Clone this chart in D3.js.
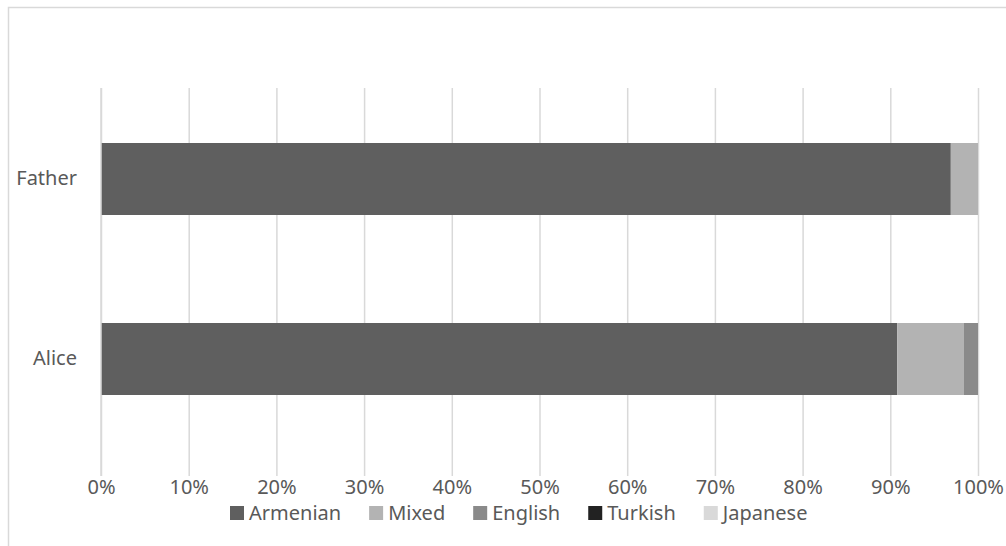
<!DOCTYPE html>
<html>
<head>
<meta charset="utf-8">
<script src="https://cdn.jsdelivr.net/npm/d3@7"></script>
<style>
  html, body { margin: 0; padding: 0; background: #fff; }
  svg { display: block; font-family: "Noto Sans", "Open Sans", sans-serif; }
</style>
</head>
<body>
<svg id="chart" width="1006" height="546"></svg>
<script>
// Language share per speaker (percent of utterances)
const speakers = ["Father", "Alice"];
const languages = ["Armenian", "Mixed", "English", "Turkish", "Japanese"];
const armenian = [96.9, 90.8];
const mixed    = [3.1, 7.6];
const english  = [0, 1.6];
const turkish  = [0, 0];
const japanese = [0, 0];
const tickValues = [0, 10, 20, 30, 40, 50, 60, 70, 80, 90, 100];
const colors = ["#5f5f5f", "#b3b3b3", "#8a8a8a", "#222222", "#d9d9d9"];

const rows = speakers.map((s, i) => ({
  speaker: s,
  Armenian: armenian[i], Mixed: mixed[i], English: english[i],
  Turkish: turkish[i], Japanese: japanese[i]
}));

const svg = d3.select("#chart");
const fontSize = 20;

// outer chart frame
svg.append("rect")
  .attr("x", 8.5).attr("y", 7.5)
  .attr("width", 1010).attr("height", 560)
  .attr("fill", "none").attr("stroke", "#d9d9d9").attr("stroke-width", 1.5);

const x = d3.scaleLinear().domain([0, 100]).range([101, 978]);
const y = d3.scaleBand().domain(speakers).range([89, 449]).paddingInner(0.6).paddingOuter(0.3);
const gridTop = 88, gridBottom = 476;

// vertical gridlines + percent labels
const xAxis = d3.axisBottom(x)
  .tickValues(tickValues)
  .tickFormat(d => d + "%")
  .tickSize(-(gridBottom - gridTop))
  .tickPadding(4);

const gx = svg.append("g")
  .attr("transform", `translate(0,${gridBottom})`)
  .call(xAxis);
gx.select(".domain").remove();
gx.selectAll(".tick line").attr("stroke", "#d9d9d9").attr("stroke-width", 1.5);
gx.selectAll(".tick text").attr("fill", "#595959").attr("font-size", fontSize)
  .attr("font-family", "Noto Sans, Open Sans, sans-serif");

// stacked bars
const stack = d3.stack().keys(languages);
const series = stack(rows);
const color = d3.scaleOrdinal().domain(languages).range(colors);

svg.append("g").selectAll("g")
  .data(series)
  .join("g")
  .attr("fill", d => color(d.key))
  .selectAll("rect")
  .data(d => d)
  .join("rect")
  .attr("x", d => x(d[0]))
  .attr("y", d => y(d.data.speaker))
  .attr("width", d => x(d[1]) - x(d[0]))
  .attr("height", y.bandwidth());

// category labels
const yAxis = d3.axisLeft(y).tickSize(0).tickPadding(24);
const gy = svg.append("g").attr("transform", `translate(101,0)`).call(yAxis);
gy.select(".domain").remove();
gy.selectAll(".tick text").attr("fill", "#595959").attr("font-size", fontSize)
  .attr("font-family", "Noto Sans, Open Sans, sans-serif");

// left axis line
svg.append("line")
  .attr("x1", 101).attr("x2", 101)
  .attr("y1", gridTop).attr("y2", gridBottom)
  .attr("stroke", "#d9d9d9").attr("stroke-width", 1.5);

// legend
const legend = svg.append("g").attr("font-size", fontSize).attr("fill", "#595959");
let lx = 230;
languages.forEach((k, i) => {
  const g = legend.append("g").attr("transform", `translate(${lx},513)`);
  g.append("rect").attr("x", 0).attr("y", -7).attr("width", 14).attr("height", 14).attr("fill", colors[i]);
  const t = g.append("text").attr("x", 19).attr("dy", "0.36em").text(k);
  const w = t.node().getComputedTextLength();
  lx += 19 + w + 28;
});
</script>
</body>
</html>
